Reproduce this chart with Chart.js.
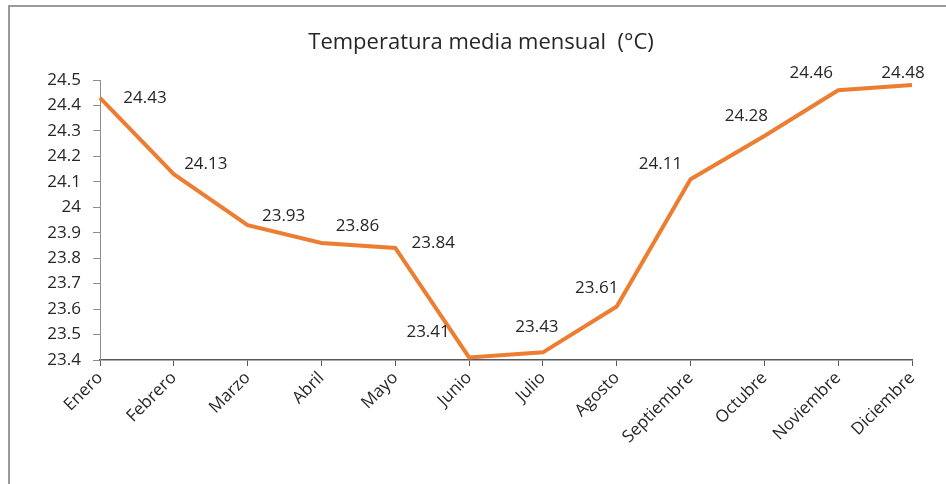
<!DOCTYPE html>
<html>
<head>
<meta charset="utf-8">
<script src="https://cdn.jsdelivr.net/npm/chart.js@4.4.1/dist/chart.umd.min.js"></script>
<style>
  html, body { margin: 0; padding: 0; background: #fff; }
  #wrap { position: relative; width: 946px; height: 484px; }
  #frame { position: absolute; left: 8px; top: 5px; width: 960px; height: 500px;
           border-top: 2px solid #9a9a9a; border-left: 2px solid #9a9a9a; }
  canvas { position: absolute; left: 0; top: 0; }
</style>
</head>
<body>
<div id="wrap">
  <div id="frame"></div>
  <canvas id="myChart" width="946" height="484"></canvas>
</div>
<script>
const months = ['Enero', 'Febrero', 'Marzo', 'Abril', 'Mayo', 'Junio', 'Julio',
  'Agosto', 'Septiembre', 'Octubre', 'Noviembre', 'Diciembre'];
const temperatures = [24.43, 24.13, 23.93, 23.86, 23.84, 23.41, 23.43, 23.61, 24.11, 24.28, 24.46, 24.48];
const yTicks = [23.4, 23.5, 23.6, 23.7, 23.8, 23.9, 24, 24.1, 24.2, 24.3, 24.4, 24.5];
const chartTitle = 'Temperatura media mensual  (°C)';

// where each value label sits relative to its point (px)
const labelOffsets = [
  [45, 0], [32, -10], [36, -9], [36, -17], [38, -5], [-41, -25],
  [-6, -25], [-20, -18], [-30, -15], [-18, -20], [-27, -17], [-9, -12]
];

const pointLabels = {
  id: 'pointLabels',
  afterDatasetsDraw(chart) {
    const ctx = chart.ctx;
    const meta = chart.getDatasetMeta(0);
    ctx.save();
    ctx.font = '17px "Open Sans"';
    ctx.fillStyle = '#262626';
    ctx.textAlign = 'center';
    ctx.textBaseline = 'middle';
    meta.data.forEach((pt, i) => {
      const off = labelOffsets[i];
      ctx.fillText(String(temperatures[i]), pt.x + off[0], pt.y + off[1]);
    });
    // title, centred like the original (a bit right of the canvas middle)
    ctx.font = '22px "Open Sans"';
    ctx.fillText(chartTitle, 481, 43);
    ctx.restore();
  }
};

function renderChart() {
  const ctx = document.getElementById('myChart').getContext('2d');
  new Chart(ctx, {
    type: 'line',
    data: {
      labels: months,
      datasets: [{
        data: temperatures,
        borderColor: '#ED7D31',
        borderWidth: 4,
        pointRadius: 0,
        tension: 0,
        fill: false
      }]
    },
    options: {
      responsive: false,
      animation: false,
      layout: { padding: { left: 0, right: 34, top: 80, bottom: 0 } },
      scales: {
        x: {
          offset: false,
          grid: { display: true, drawOnChartArea: false, drawTicks: true, tickLength: 6, color: '#595959' },
          border: { color: '#595959', width: 1.5 },
          ticks: {
            color: '#262626',
            font: { family: '"Open Sans"', size: 17 },
            minRotation: 45,
            maxRotation: 45,
            autoSkip: false,
            padding: 2
          },
          afterFit(scale) { scale.height = 124; }
        },
        y: {
          min: 23.4,
          max: 24.5,
          afterBuildTicks(scale) { scale.ticks = yTicks.map(v => ({ value: v })); },
          grid: { display: true, drawOnChartArea: false, drawTicks: true, tickLength: 7, color: '#8c8c8c' },
          border: { color: '#8c8c8c', width: 1 },
          ticks: {
            color: '#262626',
            font: { family: '"Open Sans"', size: 17 },
            padding: 12,
            callback: (v) => String(Math.round(v * 10) / 10)
          },
          afterFit(scale) { scale.width = 100; }
        }
      },
      plugins: {
        legend: { display: false },
        tooltip: { enabled: false },
        title: { display: false }
      }
    },
    plugins: [pointLabels]
  });
}

renderChart();
</script>
</body>
</html>
